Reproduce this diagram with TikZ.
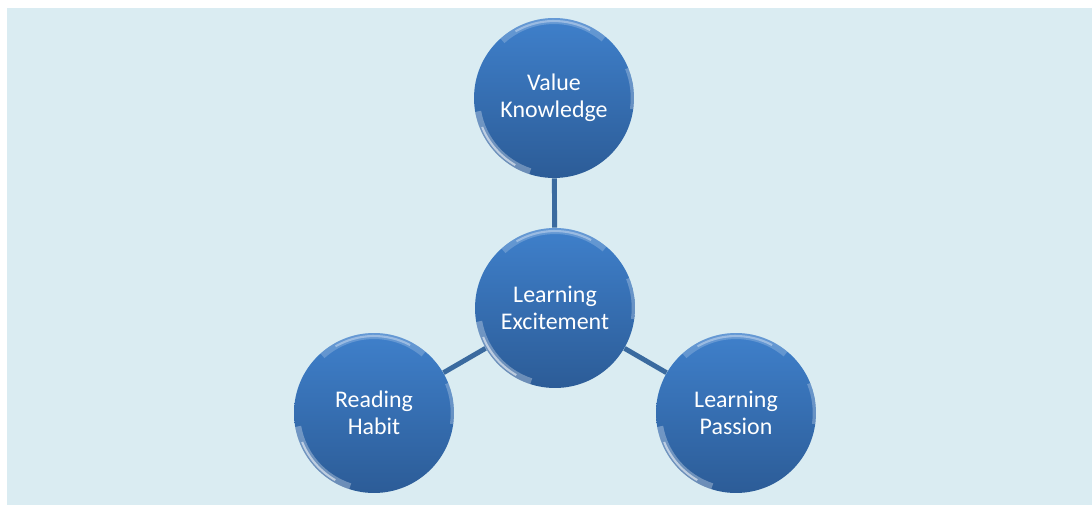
\documentclass[tikz,border=0pt]{standalone}
\usepackage{fontspec}
\setmainfont{Carlito}
\definecolor{paleback}{HTML}{DAECF2}
\definecolor{bubbletop}{HTML}{3F80CB}
\definecolor{bubblebot}{HTML}{2C5C97}
\definecolor{linkblue}{HTML}{3A6A9F}
\tikzset{
	bubble/.style={circle,minimum size=3.2cm,inner sep=0pt,align=center,text=white,
		font=\fontsize{13.6}{15.4}\selectfont,top color=bubbletop,bottom color=bubblebot,
		path picture={
			\draw[white,opacity=0.2,line width=4pt] (path picture bounding box.center) ++(50:1.55cm) arc[start angle=50,end angle=132,radius=1.55cm];
			\draw[white,opacity=0.35,line width=1.2pt] (path picture bounding box.center) ++(62:1.54cm) arc[start angle=62,end angle=120,radius=1.54cm];
			\draw[white,opacity=0.3,line width=4pt] (path picture bounding box.center) ++(190:1.55cm) arc[start angle=190,end angle=252,radius=1.55cm];
			\draw[white,opacity=0.55,line width=1.2pt] (path picture bounding box.center) ++(202:1.55cm) arc[start angle=202,end angle=240,radius=1.55cm];
			\draw[white,opacity=0.25,line width=2pt] (path picture bounding box.center) ++(-8:1.57cm) arc[start angle=-8,end angle=22,radius=1.57cm];
		}},
	link/.style={linkblue,line width=2.8pt}
}
\begin{document}
\begin{tikzpicture}[x=0.02cm,y=-0.02cm]
				\useasboundingbox (0,0) rectangle (1092,504);
				\fill[paleback] (-5,-5) rectangle (1100,512);
				\fill[white] (-5,-5) rectangle (1100,8);
				\fill[white] (-5,-5) rectangle (7,512);
				\node[bubble] (learn) at (555,308) {Learning\\Excitement};
				\node[bubble] (value) at (554,98) {Value\\Knowledge};
				\node[bubble] (read) at (374,413) {Reading\\Habit};
				\node[bubble] (passion) at (736,413) {Learning\\Passion};
				\draw[link] (learn) -- (value);
				\draw[link] (learn) -- (read);
				\draw[link] (learn) -- (passion);
			\end{tikzpicture}
\end{document}
